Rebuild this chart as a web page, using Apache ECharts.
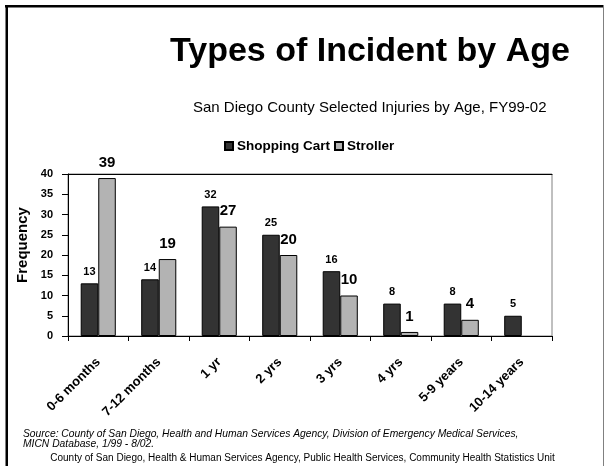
<!DOCTYPE html>
<html>
<head>
<meta charset="utf-8">
<script src="https://cdn.jsdelivr.net/npm/echarts@6/dist/echarts.min.js"></script>
<style>
  html, body { margin: 0; padding: 0; background: #fff; }
  #chart { width: 605px; height: 466px; }
</style>
</head>
<body>
<div id="chart"></div>
<script>
var dom = document.getElementById('chart');
var myChart = echarts.init(dom);

// data
var ages = ['0-6 months', '7-12 months', '1 yr', '2 yrs', '3 yrs', '4 yrs', '5-9 years', '10-14 years'];
var shoppingCart = [13, 14, 32, 25, 16, 8, 8, 5];
var stroller = [39, 19, 27, 20, 10, 1, 4, null];
var yTicks = { min: 0, max: 40, step: 5 };

var font = 'Liberation Sans, Arial, sans-serif';

var option = {
  backgroundColor: '#fff',
  animation: false,
  title: [{
    text: 'Types of Incident by Age',
    left: 165,
    top: 30,
    textStyle: { fontFamily: font, fontSize: 34, fontWeight: 'bold', color: '#000' }
  }, {
    text: 'San Diego County Selected Injuries by Age, FY99-02',
    left: 188,
    top: 95,
    textStyle: { fontFamily: font, fontSize: 15, fontWeight: 'normal', color: '#000' }
  }, {
    text: 'Source: County of San Diego, Health and Human Services Agency, Division of Emergency Medical Services,\nMICN Database, 1/99 - 8/02.',
    left: 23,
    top: 429,
    padding: 0,
    textStyle: { fontFamily: font, fontSize: 10.3, fontStyle: 'italic', fontWeight: 'normal', lineHeight: 10, color: '#000' }
  }, {
    text: 'County of San Diego, Health & Human Services Agency, Public Health Services, Community Health Statistics Unit',
    left: 'center',
    top: 453,
    padding: 0,
    textStyle: { fontFamily: font, fontSize: 10, fontWeight: 'normal', color: '#000' }
  }],
  legend: {
    left: 224,
    top: 139,
    padding: 0,
    itemGap: 4,
    itemWidth: 8,
    itemHeight: 8,
    icon: 'rect',
    textStyle: { fontFamily: font, fontSize: 13.5, fontWeight: 'bold', color: '#000', padding: [0, 0, 0, -1] },
    data: ['Shopping Cart', 'Stroller']
  },
  grid: {
    left: 68,
    right: 53,
    top: 174,
    bottom: 130,
    show: true,
    borderColor: '#808080',
    borderWidth: 1
  },
  xAxis: [{
    type: 'category',
    data: ages,
    axisLine: { lineStyle: { color: '#000', width: 1 } },
    axisTick: { show: true, length: 5, lineStyle: { color: '#000' } },
    axisLabel: {
      interval: 0,
      rotate: 45,
      margin: 24,
      fontFamily: font,
      fontSize: 13,
      fontWeight: 'bold',
      color: '#000'
    },
    splitLine: { show: false }
  }, {
    type: 'category',
    position: 'top',
    data: ages,
    axisLine: { lineStyle: { color: '#000', width: 1 } },
    axisTick: { show: false },
    axisLabel: { show: false },
    splitLine: { show: false }
  }],
  yAxis: {
    type: 'value',
    min: yTicks.min,
    max: yTicks.max,
    interval: yTicks.step,
    name: 'Frequency',
    nameLocation: 'middle',
    nameRotate: 90,
    nameGap: 38,
    nameTextStyle: { fontFamily: font, fontSize: 15, fontWeight: 'bold', color: '#000', padding: [0, 0, 0, 20] },
    axisLine: { show: true, lineStyle: { color: '#000', width: 1 } },
    axisTick: { show: true, length: 6, lineStyle: { color: '#000' } },
    axisLabel: { margin: 15, fontFamily: font, fontSize: 11, fontWeight: 'bold', color: '#000' },
    splitLine: { show: false }
  },
  series: [{
    name: 'Shopping Cart',
    type: 'bar',
    data: shoppingCart,
    barGap: '0%',
    barCategoryGap: '42%',
    itemStyle: { color: '#333333', borderColor: '#000', borderWidth: 1 },
    label: {
      show: true,
      position: 'top',
      distance: 6,
      fontFamily: font,
      fontSize: 11,
      fontWeight: 'bold',
      color: '#000'
    }
  }, {
    name: 'Stroller',
    type: 'bar',
    data: stroller,
    itemStyle: { color: '#b3b3b3', borderColor: '#000', borderWidth: 1 },
    label: {
      show: true,
      position: 'top',
      distance: 8,
      fontFamily: font,
      fontSize: 15,
      fontWeight: 'bold',
      color: '#000'
    }
  }],
  graphic: [{
    type: 'rect',
    shape: { x: 5, y: 5, width: 598, height: 2.5 },
    style: { fill: '#000' },
    silent: true
  }, {
    type: 'rect',
    shape: { x: 5.5, y: 5, width: 2.5, height: 470 },
    style: { fill: '#000' },
    silent: true
  }, {
    type: 'line',
    shape: { x1: 603.5, y1: 5, x2: 603.5, y2: 466 },
    style: { stroke: '#808080', lineWidth: 1 },
    silent: true
  }]
};

myChart.setOption(option, true);
</script>
</body>
</html>
